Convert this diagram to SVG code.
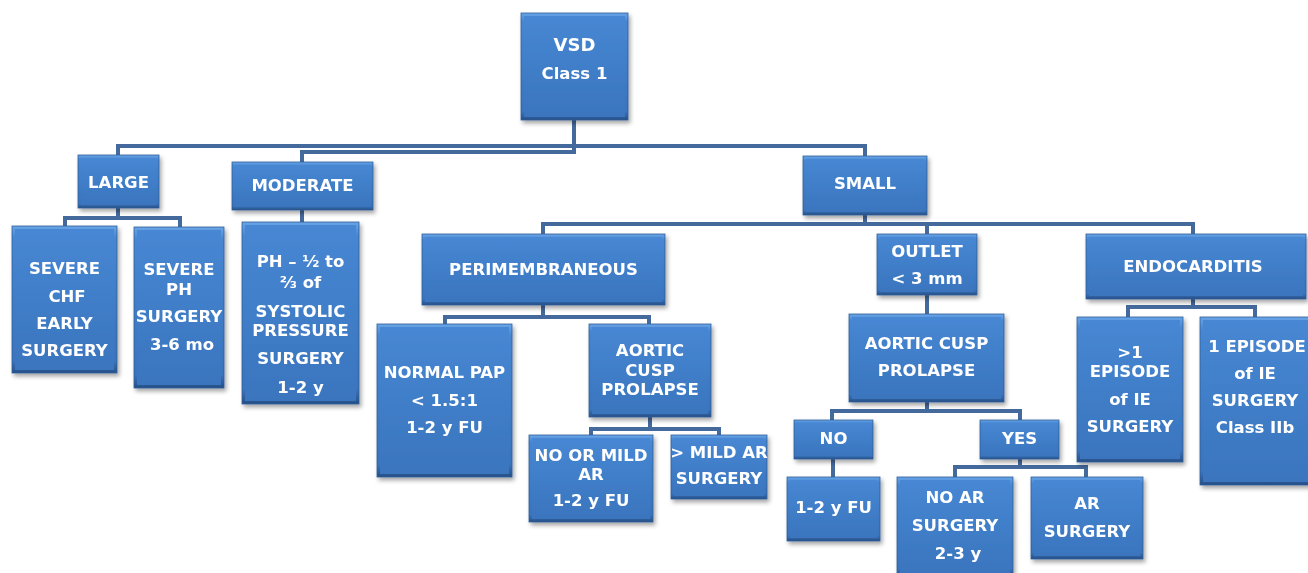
<svg xmlns="http://www.w3.org/2000/svg" width="1308" height="573" viewBox="0 0 1308 573">
<defs>
<linearGradient id="bev" x1="0" y1="0" x2="0" y2="1">
<stop offset="0" stop-color="#6aa5e6"/>
<stop offset="0.08" stop-color="#4686d2"/>
<stop offset="0.92" stop-color="#3a74bd"/>
<stop offset="1" stop-color="#264f85"/>
</linearGradient>
<linearGradient id="face" x1="0" y1="0" x2="0" y2="1">
<stop offset="0" stop-color="#4787d3"/>
<stop offset="1" stop-color="#3a75be"/>
</linearGradient>
<filter id="sh" x="-20%" y="-20%" width="140%" height="140%">
<feDropShadow dx="2" dy="3" stdDeviation="2" flood-color="#000" flood-opacity="0.35"/>
</filter>
</defs>
<style>
.node{filter:url(#sh);}
.b{fill:url(#bev);stroke:#2f5e98;stroke-width:0.8;}
.f{fill:url(#face);}
text{font-family:"DejaVu Sans","Verdana",sans-serif;font-weight:bold;font-size:16.5px;fill:#ffffff;text-anchor:middle;}
.big{font-size:18px;}
.c{fill:none;stroke:#44699c;stroke-width:4;stroke-linejoin:miter;}
</style>
<rect width="1308" height="573" fill="#ffffff"/>
<g id="connectors">
<path class="c" d="M574 120 V152 H302 V162"/>
<path class="c" d="M118 155 V146 H865 V156"/>
<path class="c" d="M118 208 V218 M65 226 V218 H180 V227"/>
<path class="c" d="M302 210 V222"/>
<path class="c" d="M865 215 V224 M543 234 V224 H1193 V234 M927 224 V234"/>
<path class="c" d="M543 305 V317 M445 324 V317 H649 V324"/>
<path class="c" d="M650 417 V429 M591 435 V429 H719 V435"/>
<path class="c" d="M927 295 V314"/>
<path class="c" d="M927 402 V411 M832 420 V411 H1020 V420"/>
<path class="c" d="M833 459 V477"/>
<path class="c" d="M1020 459 V467 M955 477 V467 H1086 V477"/>
<path class="c" d="M1193 299 V307 M1128 317 V307 H1255 V317"/>
</g>
<g id="vsd" class="node">
<rect class="b" x="521" y="13" width="107" height="107"/><rect class="f" x="524" y="16" width="101" height="101"/>
<text class="big" x="574.5" y="51">VSD</text>
<text x="574.5" y="79">Class 1</text>
</g>
<g id="large" class="node">
<rect class="b" x="78" y="155" width="81" height="53"/><rect class="f" x="81" y="158" width="75" height="47"/>
<text x="118.5" y="188">LARGE</text>
</g>
<g id="moderate" class="node">
<rect class="b" x="232" y="162" width="141" height="48"/><rect class="f" x="235" y="165" width="135" height="42"/>
<text x="302.5" y="191">MODERATE</text>
</g>
<g id="small" class="node">
<rect class="b" x="803" y="156" width="124" height="59"/><rect class="f" x="806" y="159" width="118" height="53"/>
<text x="865" y="189">SMALL</text>
</g>
<g id="severe-chf" class="node">
<rect class="b" x="12" y="226" width="105" height="147"/><rect class="f" x="15" y="229" width="99" height="141"/>
<text x="64.5" y="274">SEVERE</text>
<text x="67" y="302">CHF</text>
<text x="64.5" y="329">EARLY</text>
<text x="64.5" y="356">SURGERY</text>
</g>
<g id="severe-ph" class="node">
<rect class="b" x="134" y="227" width="90" height="161"/><rect class="f" x="137" y="230" width="84" height="155"/>
<text x="179" y="275">SEVERE</text>
<text x="179" y="295">PH</text>
<text x="179" y="322">SURGERY</text>
<text x="182" y="350">3-6 mo</text>
</g>
<g id="ph-half" class="node">
<rect class="b" x="242" y="222" width="117" height="182"/><rect class="f" x="245" y="225" width="111" height="176"/>
<text x="300.5" y="267">PH – ½ to</text>
<text x="300.5" y="288">⅔  of</text>
<text x="300.5" y="317">SYSTOLIC</text>
<text x="300.5" y="336">PRESSURE</text>
<text x="300.5" y="364">SURGERY</text>
<text x="300.5" y="393">1-2 y</text>
</g>
<g id="perimembraneous" class="node">
<rect class="b" x="422" y="234" width="243" height="71"/><rect class="f" x="425" y="237" width="237" height="65"/>
<text x="543.5" y="275">PERIMEMBRANEOUS</text>
</g>
<g id="normal-pap" class="node">
<rect class="b" x="377" y="324" width="135" height="153"/><rect class="f" x="380" y="327" width="129" height="147"/>
<text x="444.5" y="378">NORMAL PAP</text>
<text x="444.5" y="406">&lt; 1.5:1</text>
<text x="444.5" y="433">1-2 y FU</text>
</g>
<g id="acp-peri" class="node">
<rect class="b" x="589" y="324" width="122" height="93"/><rect class="f" x="592" y="327" width="116" height="87"/>
<text x="650" y="356">AORTIC</text>
<text x="650" y="376">CUSP</text>
<text x="650" y="395">PROLAPSE</text>
</g>
<g id="no-mild-ar" class="node">
<rect class="b" x="529" y="435" width="124" height="87"/><rect class="f" x="532" y="438" width="118" height="81"/>
<text x="591" y="461">NO OR MILD</text>
<text x="591" y="480">AR</text>
<text x="591" y="506">1-2 y FU</text>
</g>
<g id="gt-mild-ar" class="node">
<rect class="b" x="671" y="435" width="96" height="64"/><rect class="f" x="674" y="438" width="90" height="58"/>
<text x="719" y="458">&gt; MILD AR</text>
<text x="719" y="484">SURGERY</text>
</g>
<g id="outlet" class="node">
<rect class="b" x="877" y="234" width="100" height="61"/><rect class="f" x="880" y="237" width="94" height="55"/>
<text x="927" y="257">OUTLET</text>
<text x="927" y="284">&lt; 3 mm</text>
</g>
<g id="endocarditis" class="node">
<rect class="b" x="1086" y="234" width="220" height="65"/><rect class="f" x="1089" y="237" width="214" height="59"/>
<text x="1193" y="272">ENDOCARDITIS</text>
</g>
<g id="acp-outlet" class="node">
<rect class="b" x="849" y="314" width="155" height="88"/><rect class="f" x="852" y="317" width="149" height="82"/>
<text x="926.5" y="349">AORTIC CUSP</text>
<text x="926.5" y="376">PROLAPSE</text>
</g>
<g id="no" class="node">
<rect class="b" x="794" y="420" width="79" height="39"/><rect class="f" x="797" y="423" width="73" height="33"/>
<text x="833.5" y="444">NO</text>
</g>
<g id="yes" class="node">
<rect class="b" x="980" y="420" width="79" height="39"/><rect class="f" x="983" y="423" width="73" height="33"/>
<text x="1019.5" y="444">YES</text>
</g>
<g id="fu" class="node">
<rect class="b" x="787" y="477" width="93" height="64"/><rect class="f" x="790" y="480" width="87" height="58"/>
<text x="833.5" y="513">1-2 y FU</text>
</g>
<g id="no-ar" class="node">
<rect class="b" x="897" y="477" width="116" height="100"/><rect class="f" x="900" y="480" width="110" height="94"/>
<text x="955" y="503">NO AR</text>
<text x="955" y="531">SURGERY</text>
<text x="958" y="559">2-3 y</text>
</g>
<g id="ar" class="node">
<rect class="b" x="1031" y="477" width="112" height="82"/><rect class="f" x="1034" y="480" width="106" height="76"/>
<text x="1087" y="509">AR</text>
<text x="1087" y="537">SURGERY</text>
</g>
<g id="gt1-episode" class="node">
<rect class="b" x="1077" y="317" width="106" height="145"/><rect class="f" x="1080" y="320" width="100" height="139"/>
<text x="1130" y="358">&gt;1</text>
<text x="1130" y="377">EPISODE</text>
<text x="1130" y="405">of IE</text>
<text x="1130" y="432">SURGERY</text>
</g>
<g id="one-episode" class="node">
<rect class="b" x="1200" y="317" width="112" height="168"/><rect class="f" x="1203" y="320" width="106" height="162"/>
<text x="1257" y="352">1 EPISODE</text>
<text x="1255" y="379">of IE</text>
<text x="1255" y="406">SURGERY</text>
<text x="1255" y="433">Class IIb</text>
</g>
</svg>
